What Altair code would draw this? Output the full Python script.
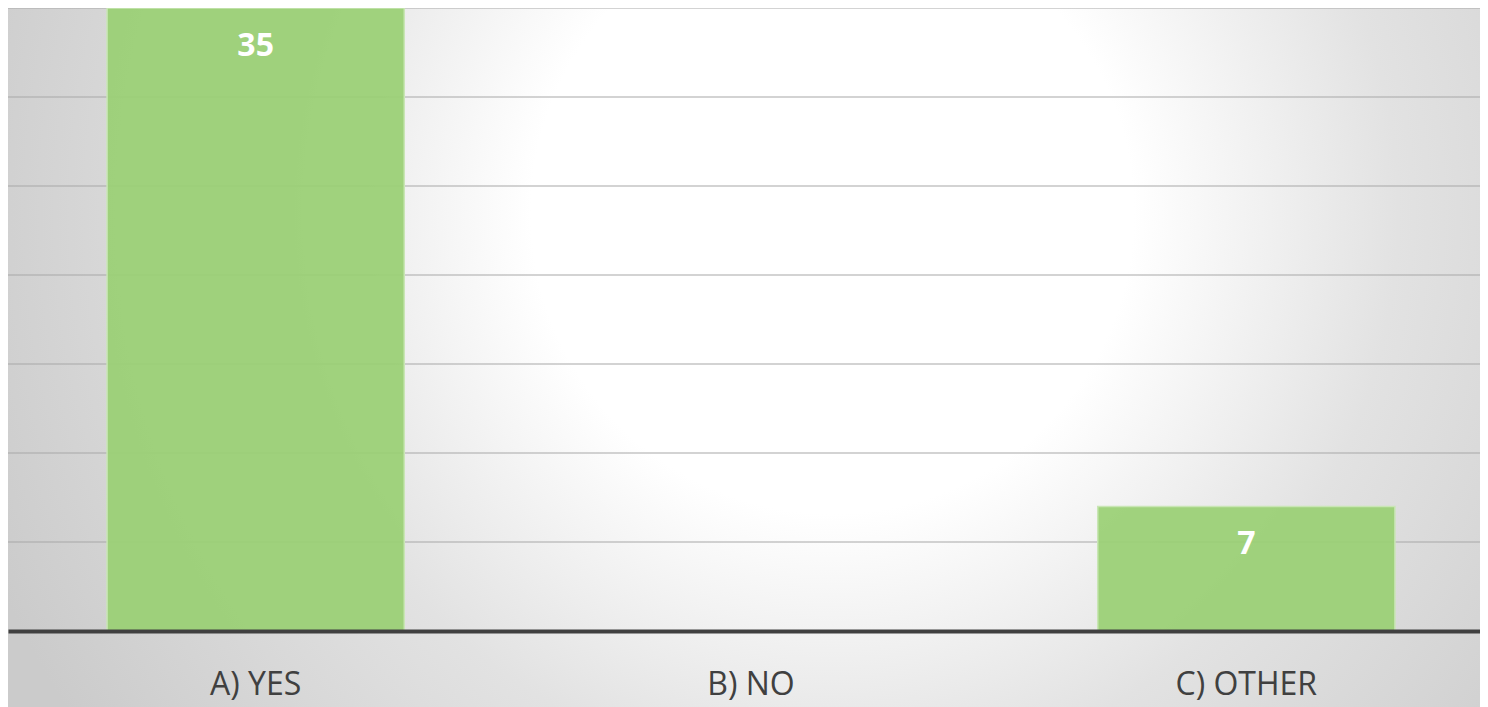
import altair as alt
import pandas as pd

categories = ["A) YES", "B) NO", "C) OTHER"]
values = [35, 0, 7]
labels = ["35", "", "7"]
grid_values = [5, 10, 15, 20, 25, 30, 35]

W, H = 1472, 623

df = pd.DataFrame({"cat": categories, "val": values, "lab": labels})
grid_df = pd.DataFrame({"g": grid_values})
bg_df = pd.DataFrame({"k": [0]})

xscale = alt.Scale(domain=categories, paddingInner=0.4, paddingOuter=0.2, range=[0, 1486])
yscale = alt.Scale(domain=[0, 35], nice=False, zero=True)

bg = alt.Chart(bg_df).mark_rect(
    fill=alt.Gradient(
        gradient="radial",
        x1=0.56, y1=0.4, r1=0,
        x2=0.56, y2=0.4, r2=0.62,
        stops=[
            alt.GradientStop(color="#ffffff", offset=0),
            alt.GradientStop(color="#ffffff", offset=0.33),
            alt.GradientStop(color="#e2e2e2", offset=0.62),
            alt.GradientStop(color="#cbcbcb", offset=1),
        ],
    ),
    clip=False,
).encode(
    x=alt.value(0), x2=alt.value(W), y=alt.value(0), y2=alt.value(H + 80)
)

grid = alt.Chart(grid_df).mark_rule(color="#a8a8a8", strokeWidth=1.2).encode(
    y=alt.Y("g:Q", scale=yscale, axis=None)
)

bars = alt.Chart(df).mark_bar(
    fill="#9ad074", fillOpacity=0.93, stroke="#c9e6b5", strokeWidth=1.5
).encode(
    x=alt.X("cat:N", scale=xscale, sort=categories,
            axis=alt.Axis(title=None, labelAngle=0, labelFont="Open Sans",
                          labelFontSize=32, labelColor="#404040", labelPadding=38,
                          ticks=False, domainColor="#404040", domainWidth=4,
                          zindex=1)),
    y=alt.Y("val:Q", scale=yscale, axis=None),
)

text = alt.Chart(df).mark_text(
    font="Open Sans", fontSize=32, fontWeight="bold", color="white",
    baseline="middle", dy=38
).encode(
    x=alt.X("cat:N", scale=xscale, sort=categories),
    y=alt.Y("val:Q", scale=yscale),
    text="lab:N",
)

chart = alt.layer(bg, grid, bars, text).properties(
    width=W, height=H,
    autosize=alt.AutoSizeParams(type="none"),
    padding={"left": 0, "top": 0, "right": 0, "bottom": 76},
).configure_view(stroke=None).configure(background="white")

chart.save("out.html", embed_options={"renderer": "svg", "actions": False})
